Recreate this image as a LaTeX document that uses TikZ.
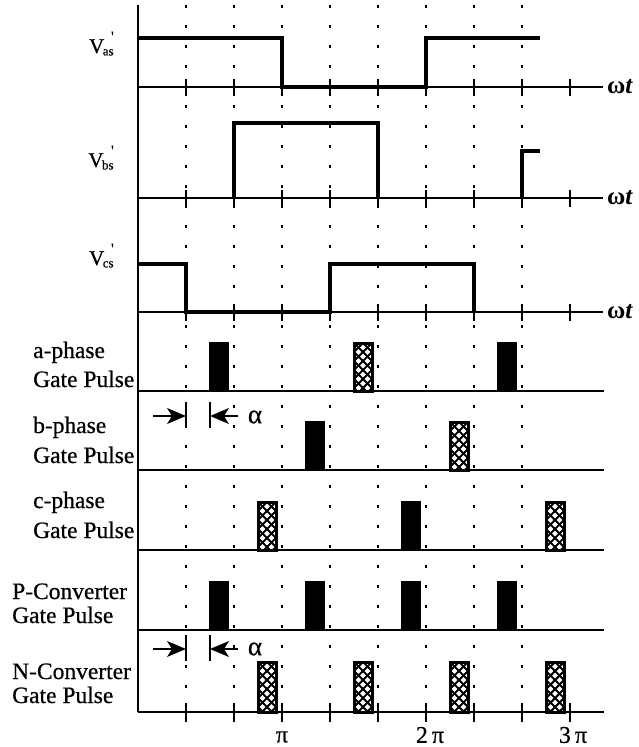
\documentclass[tikz,border=0pt]{standalone}
\usepackage{fontspec}
\setmainfont{Liberation Serif}
\newfontfamily\heavy[FakeBold=0.6]{Liberation Serif}
\usetikzlibrary{arrows.meta}
\newcommand\hatchpulse[3]{%
  \begin{scope}
    \clip (#1,#2) rectangle (#1+18,#3);
    \foreach \k in {-72,-63,...,90} {
      \draw[line width=2.1pt] (#1+\k,#2) -- ++(72,72);
      \draw[line width=2.1pt] (#1+\k,#2) -- ++(-72,72);
    }
  \end{scope}
  \draw[line width=3pt] (#1,#2) rectangle (#1+18,#3);
}
\newcommand\vlab[1]{\fontsize{21}{22}\selectfont V\kern-1.5pt\raisebox{-0.25ex}{\fontsize{13}{13}\selectfont #1}\kern-2.5pt\raisebox{1.2ex}{\fontsize{15}{15}\selectfont '}}
\begin{document}
\begin{tikzpicture}[x=1pt,y=-1pt,
  wave/.style={line width=3.6pt},
  axisline/.style={line width=2.6pt},
  gridline/.style={line width=1.8pt, dash pattern=on 3pt off 17pt},
  tickmark/.style={line width=2.4pt},
  lbl/.style={font=\heavy\fontsize{23.5}{26}\selectfont, inner sep=0pt},
  vlbl/.style={inner sep=0pt, font=\heavy},
  wt/.style={font=\fontsize{25}{26}\selectfont\bfseries, inner sep=0pt, anchor=west},
  pilbl/.style={font=\heavy\fontsize{24}{26}\selectfont, inner sep=0pt},
  shaft/.style={line width=2.8pt},
  headfill/.style={fill=black},
  stopbar/.style={line width=1.8pt},
  blackpulse/.style={fill=black, draw=black, line width=1.2pt}
]
\useasboundingbox (0,0) rectangle (639,747);

% dotted grid
\foreach \k in {1,...,8} \draw[gridline] (138+\k*48,5) -- (138+\k*48,712);

% vertical axis
\draw[axisline] (138,5) -- (138,712);

% waveform axes with ticks
\foreach \y in {87,198,312} {
  \draw[axisline] (138,\y) -- (603,\y);
  \foreach \k in {1,...,9} \draw[tickmark] (138+\k*48,\y-8) -- (138+\k*48,\y+9);
}
% gate pulse axes
\foreach \y in {391,470,550,630,712} \draw[axisline] (138,\y) -- (604,\y);
\foreach \k in {1,...,9} \draw[tickmark] (138+\k*48,703) -- (138+\k*48,722);

% waveforms
\draw[wave] (138,38) -- (282,38) -- (282,87) -- (426,87) -- (426,38) -- (540,38);
\draw[wave] (234,198) -- (234,123) -- (378,123) -- (378,198);
\draw[wave] (522,198) -- (522,151) -- (540,151);
\draw[wave] (138,264) -- (186,264) -- (186,312) -- (330,312) -- (330,264) -- (474,264) -- (474,312);

% omega t labels
\node[wt] (wt1) at (607,87) {ω\textit{t}};
\node[wt] (wt2) at (607,198) {ω\textit{t}};
\node[wt] (wt3) at (607,312) {ω\textit{t}};

% voltage labels
\node[vlbl, anchor=base east] (vas) at (114,53) {\vlab{as}};
\node[vlbl, anchor=base east] (vbs) at (114,167) {\vlab{bs}};
\node[vlbl, anchor=base east] (vcs) at (114,265) {\vlab{cs}};

% gate pulse labels
\node[lbl, anchor=base west] (la1) at (33,358) {a-phase};
\node[lbl, anchor=base west] (la2) at (33,387) {Gate Pulse};
\node[lbl, anchor=base west] (lb1) at (33,433) {b-phase};
\node[lbl, anchor=base west] (lb2) at (33,463) {Gate Pulse};
\node[lbl, anchor=base west] (lc1) at (33,508) {c-phase};
\node[lbl, anchor=base west] (lc2) at (33,538) {Gate Pulse};
\node[lbl, anchor=base west] (lp1) at (12,599) {P-Converter};
\node[lbl, anchor=base west] (lp2) at (12,623) {Gate Pulse};
\node[lbl, anchor=base west] (ln1) at (12,679) {N-Converter};
\node[lbl, anchor=base west] (ln2) at (12,703) {Gate Pulse};

% a-phase
\fill[blackpulse] (210,343) rectangle (228,391);
\hatchpulse{354}{343}{391}
\fill[blackpulse] (498,343) rectangle (516,391);
% b-phase
\fill[blackpulse] (306,422) rectangle (324,470);
\hatchpulse{450}{422}{470}
% c-phase
\hatchpulse{258}{502}{550}
\fill[blackpulse] (402,502) rectangle (420,550);
\hatchpulse{546}{502}{550}
% P converter
\foreach \x in {210,306,402,498} \fill[blackpulse] (\x,582) rectangle (\x+18,630);
% N converter
\foreach \x in {258,354,450,546} {\hatchpulse{\x}{662}{712}}

% alpha markers
\foreach \y/\n in {416/1,649/2} {
  \coordinate (ls\n) at (153,\y);
  \coordinate (le\n) at (186,\y);
  \coordinate (rs\n) at (238,\y);
  \coordinate (re\n) at (210,\y);
  \draw[shaft] (ls\n) -- ++(20,0);
  \fill[headfill] (le\n) -- ++(-19,-8) -- ++(5,8) -- ++(-5,8) -- cycle;
  \draw[shaft] (rs\n) -- ++(-20,0);
  \fill[headfill] (re\n) -- ++(19,-8) -- ++(-5,8) -- ++(5,8) -- cycle;
  \draw[stopbar] (186,\y-14) -- (186,\y+12);
  \draw[stopbar] (210,\y-14) -- (210,\y+12);
}
\node[font=\heavy\fontsize{27}{28}\selectfont, inner sep=0pt] (al1) at (255,417) {α};
\node[font=\heavy\fontsize{27}{28}\selectfont, inner sep=0pt] (al2) at (255,649) {α};

% pi labels
\node[pilbl] (p1) at (282,737) {π};
\node[pilbl] (p2) at (430,735) {2\,π};
\node[pilbl] (p3) at (573,735) {3\,π};
\end{tikzpicture}
\end{document}
